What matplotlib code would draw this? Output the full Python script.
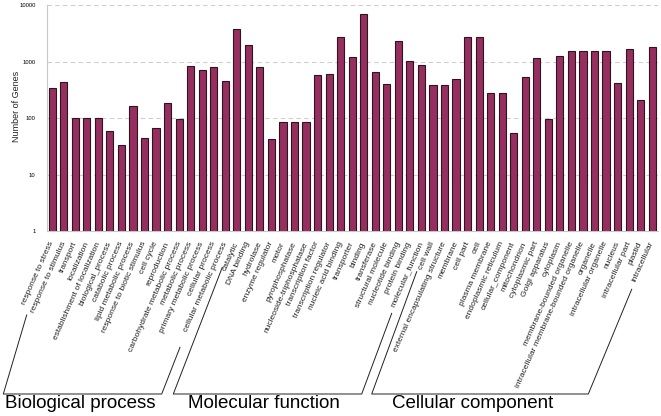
import matplotlib
matplotlib.use("Agg")
import matplotlib.pyplot as plt
from matplotlib.lines import Line2D
import numpy as np

plt.rcParams['font.family'] = ['Liberation Sans', 'DejaVu Sans']

categories = [
    "response to stress", "response to stimulus", "transport", "localization",
    "establishment of localization", "biological_process", "catabolic process",
    "lipid metabolic process", "response to biotic stimulus", "cell cycle",
    "reproduction", "carbohydrate metabolic process", "metabolic process",
    "primary metabolic process", "cellular process", "cellular metabolic process",
    "catalytic", "DNA binding", "hydrolase", "enzyme regulator", "motor",
    "pyrophosphatase", "nucleoside-triphosphatase", "transcription factor",
    "transcription regulator", "nucleic acid binding", "transporter", "binding",
    "transferase", "structural molecule", "nucleotide binding", "protein binding",
    "molecular_function",
    "cell wall", "external encapsulating structure", "membrane", "cell part", "cell",
    "plasma membrane", "endoplasmic reticulum", "cellular_component", "mitochondrion",
    "cytoplasmic part", "Golgi apparatus", "cytoplasm", "membrane-bounded organelle",
    "intracellular membrane-bounded organelle", "organelle", "intracellular organelle",
    "nucleus", "intracellular part", "plastid", "intracellular",
]
gene_counts = [
    345, 435, 100, 100, 100, 58, 33, 161, 44, 66, 185, 96, 850, 703, 805, 454,
    3800, 2005, 815, 42, 86, 86, 86, 587, 612, 2750, 1197, 6950, 664, 402, 2360, 1042, 863,
    391, 391, 487, 2710, 2710, 275, 275, 55, 528, 1178, 95, 1278, 1550, 1550, 1550, 1550,
    419, 1702, 211, 1824,
]
group_names = ["Biological process", "Molecular function", "Cellular component"]
y_ticks = [1, 10, 100, 1000, 10000]
y_tick_labels = ["1", "10", "100", "1000", "10000"]

W, H = 661, 416
fig = plt.figure(figsize=(W / 100, H / 100), dpi=100)
ax = fig.add_axes([46.7 / W, 1 - 231 / H, (657.5 - 46.7) / W, (231 - 5.3) / H])

x = np.arange(len(categories))
ax.bar(x, gene_counts, width=0.62, color="#962F5F", edgecolor="#2A1520",
       linewidth=0.8, zorder=3)
ax.set_yscale("log")
ax.set_ylim(1, 10000)
ax.set_xlim(-0.477, len(categories) - 1 + 0.46)
ax.set_yticks(y_ticks)
ax.set_yticklabels(y_tick_labels, fontsize=4.2)
ax.yaxis.set_minor_locator(matplotlib.ticker.NullLocator())
ax.tick_params(axis="y", length=0, pad=8)
ax.tick_params(axis="x", length=0, pad=8)
ax.set_xticks(x)
ax.set_xticklabels(categories, rotation=66, ha="right", va="center",
                   rotation_mode="anchor", fontsize=6, color="#222222")
ax.grid(axis="y", which="major", linestyle=(0, (4, 3)), color="#CFCFCF", linewidth=0.8, zorder=0)
for s in ["top", "right"]:
    ax.spines[s].set_visible(False)
for s in ["left", "bottom"]:
    ax.spines[s].set_color("#C8C8C8")
    ax.spines[s].set_linewidth(0.8)
ax.set_ylabel("Number of Genes", fontsize=6.5, color="#222222", labelpad=10)
ax.yaxis.set_label_coords(-(46.7 - 21) / (657.5 - 46.7), 0.55)


def px(xp, yp):
    return xp / W, 1 - yp / H


brackets = [
    [(26.7, 315), (3.3, 394), (161.7, 394), (180, 347.3)],
    [(222.3, 267.3), (173.3, 394), (361.7, 394), (391.7, 313.3)],
    [(416.7, 271.7), (371.7, 394), (588.3, 394), (631.7, 289.3)],
]
for pts in brackets:
    xs = [p[0] / W for p in pts]
    ys = [1 - p[1] / H for p in pts]
    fig.add_artist(Line2D(xs, ys, color="#222222", linewidth=0.7))

label_pos = [(5, 395), (188, 395), (392, 395)]
for name, (lx, ly) in zip(group_names, label_pos):
    fx, fy = px(lx, ly)
    fig.text(fx, fy, name, fontsize=13.5, ha="left", va="top", color="black")

fig.savefig("out.png", dpi=100)
